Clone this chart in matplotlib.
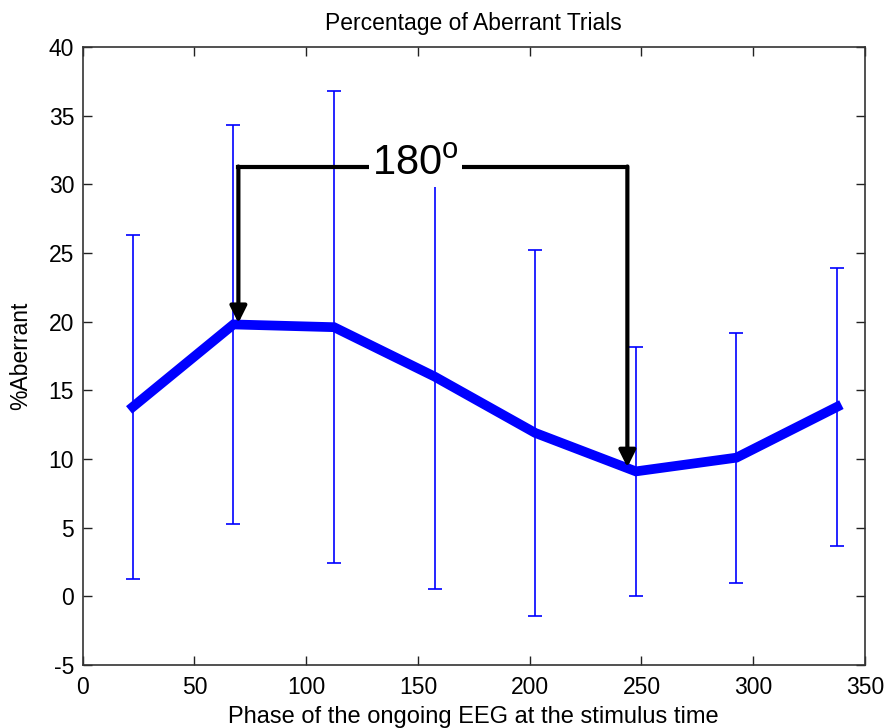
import matplotlib
matplotlib.use("Agg")
import matplotlib.pyplot as plt

plt.rcParams['font.family'] = ['Liberation Sans', 'DejaVu Sans']
plt.rcParams['mathtext.fontset'] = 'custom'
plt.rcParams['mathtext.rm'] = 'Liberation Sans'
plt.rcParams['mathtext.it'] = 'Liberation Sans'
plt.rcParams['axes.unicode_minus'] = False

# Data
phase = [22.5, 67.5, 112.5, 157.5, 202.5, 247.5, 292.5, 337.5]
aberrant = [13.8, 19.8, 19.6, 16.0, 11.9, 9.1, 10.1, 13.8]
err = [12.5, 14.5, 17.2, 15.5, 13.3, 9.05, 9.1, 10.1]

# Annotation (bracket showing 180 deg)
arrow_x = [69.7, 243.7]
arrow_tip_y = [19.9, 9.4]
bracket_y = 31.3
label_x = 148.8
label_text = r'180$^{\mathrm{o}}$'

fig = plt.figure(figsize=(8.85, 7.28), dpi=100)
ax = fig.add_axes([0.0933, 0.0865, 0.9774 - 0.0933, 0.9354 - 0.0865])

ax.errorbar(phase, aberrant, yerr=err, fmt='none', ecolor='#0000ff',
            elinewidth=1.2, capsize=5, capthick=1.2, zorder=2)
ax.plot(phase, aberrant, color='#0000ff', lw=7, solid_joinstyle='miter', zorder=3)

# bracket
ax.plot([arrow_x[0], arrow_x[1]], [bracket_y, bracket_y],
        color='black', lw=3, solid_capstyle='projecting', zorder=4)
for xa, ya in zip(arrow_x, arrow_tip_y):
    ax.annotate('', xy=(xa, ya), xytext=(xa, bracket_y),
                arrowprops=dict(arrowstyle='-|>', lw=3, color='black',
                                mutation_scale=25, shrinkA=0, shrinkB=0),
                zorder=5)
ax.text(label_x, bracket_y + 0.2, label_text, fontsize=30,
        ha='center', va='center', zorder=6,
        bbox=dict(facecolor='white', edgecolor='none', pad=2))

ax.set_xlim(0, 350)
ax.set_ylim(-5, 40)
ax.set_xticks(range(0, 351, 50))
ax.set_yticks(range(-5, 41, 5))
ax.tick_params(direction='in', length=6.5, width=1, top=True, right=True,
               labelsize=16.5, colors='#222222', labelcolor='black')
ax.tick_params(axis='x', pad=8)
ax.tick_params(axis='y', pad=6)
for s in ax.spines.values():
    s.set_linewidth(1.2)
    s.set_color('#333333')

ax.set_title('Percentage of Aberrant Trials', fontsize=16.5, pad=12)
ax.set_xlabel('Phase of the ongoing EEG at the stimulus time', fontsize=17, labelpad=5)
ax.set_ylabel('%Aberrant', fontsize=16.5, labelpad=12)

fig.savefig('out.png', dpi=100)
